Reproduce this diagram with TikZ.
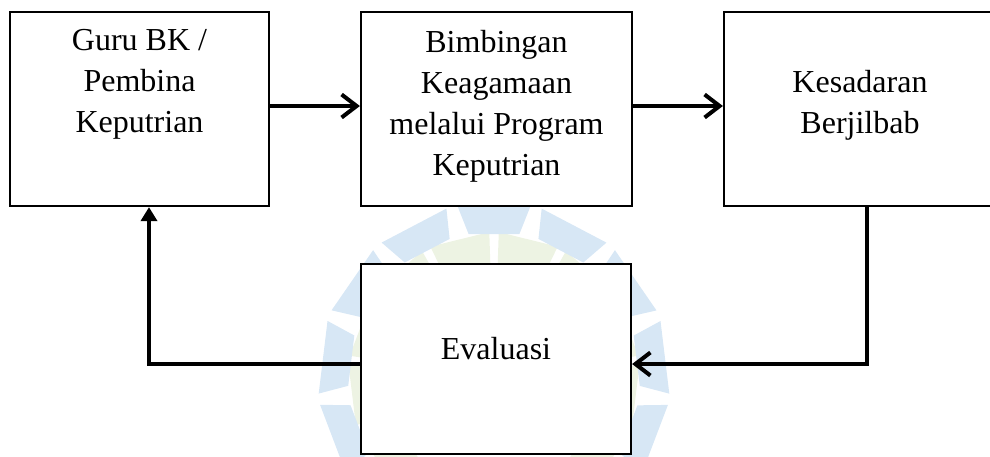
\documentclass[tikz,border=0pt]{standalone}
\usepackage{fontspec}
\setmainfont{Liberation Serif}
\usetikzlibrary{arrows.meta}
\definecolor{wmblue}{RGB}{215,231,245}
\definecolor{wmgreen}{RGB}{237,243,227}
\tikzset{
  box/.style={draw, line width=1.1pt, fill=white, minimum height=97pt, inner sep=0pt},
  flow/.style={line width=2pt, -{Straight Barb[length=7.5pt,width=11.5pt,line width=2pt]}},
  back/.style={line width=2pt, -{Triangle[length=7pt,width=8pt]}}
}
\newcommand{\boxfont}{\fontsize{16}{20.5}\selectfont}

\begin{document}
\begin{tikzpicture}[x=0.5pt, y=-0.5pt, font=\boxfont]
\useasboundingbox (0,0) rectangle (990,456);

% watermark
\begin{scope}[shift={(494,378)}, x=0.5pt, y=0.5pt]
\foreach \i in {0,...,12} {
  \pgfmathsetmacro{\g}{103.85+\i*27.69}
  \fill[wmgreen] (\g-12:110) -- (\g+12:110) -- (\g+12:146) -- (\g-12:146) -- cycle;
}
\foreach \i in {0,...,12} {
  \pgfmathsetmacro{\b}{90+\i*27.69}
  \fill[wmblue] (\b-10:146) -- (\b+10:146) -- (\b+12:176) -- (\b-12:176) -- cycle;
}
\end{scope}

% boxes
\node[box, minimum width=129.5pt, label={[anchor=north, yshift=-9pt, inner sep=0pt, align=center]north:Guru BK /\\Pembina\\Keputrian}] (guru) at (139.5,109) {};
\node[box, minimum width=135.5pt, label={[anchor=north, yshift=-9.6pt, inner sep=0pt, align=center]north:Bimbingan\\Keagamaan\\melalui Program\\Keputrian}] (bimbingan) at (496.5,109) {};
\node[box, minimum width=136pt, label={[anchor=north, yshift=-29.5pt, inner sep=0pt, align=center]north:Kesadaran\\Berjilbab}] (kesadaran) at (860,109) {};
\node[box, minimum width=135pt, minimum height=95pt, label={[anchor=north, yshift=-37pt, inner sep=0pt, align=center]north:Evaluasi}] (evaluasi) at (496,359) {};

% arrows
\draw[flow] ([yshift=1.5pt]guru.east) -- ([yshift=1.5pt]bimbingan.west);
\draw[flow] ([yshift=1.5pt]bimbingan.east) -- ([yshift=1.5pt]kesadaran.west);

\coordinate (turnR) at (867,364);
\coordinate (turnL) at (149,364);
\draw[flow] (kesadaran.south -| turnR) |- (evaluasi.east |- turnR);
\draw[back] (evaluasi.west |- turnL) -| (guru.south -| turnL);
\end{tikzpicture}
\end{document}
